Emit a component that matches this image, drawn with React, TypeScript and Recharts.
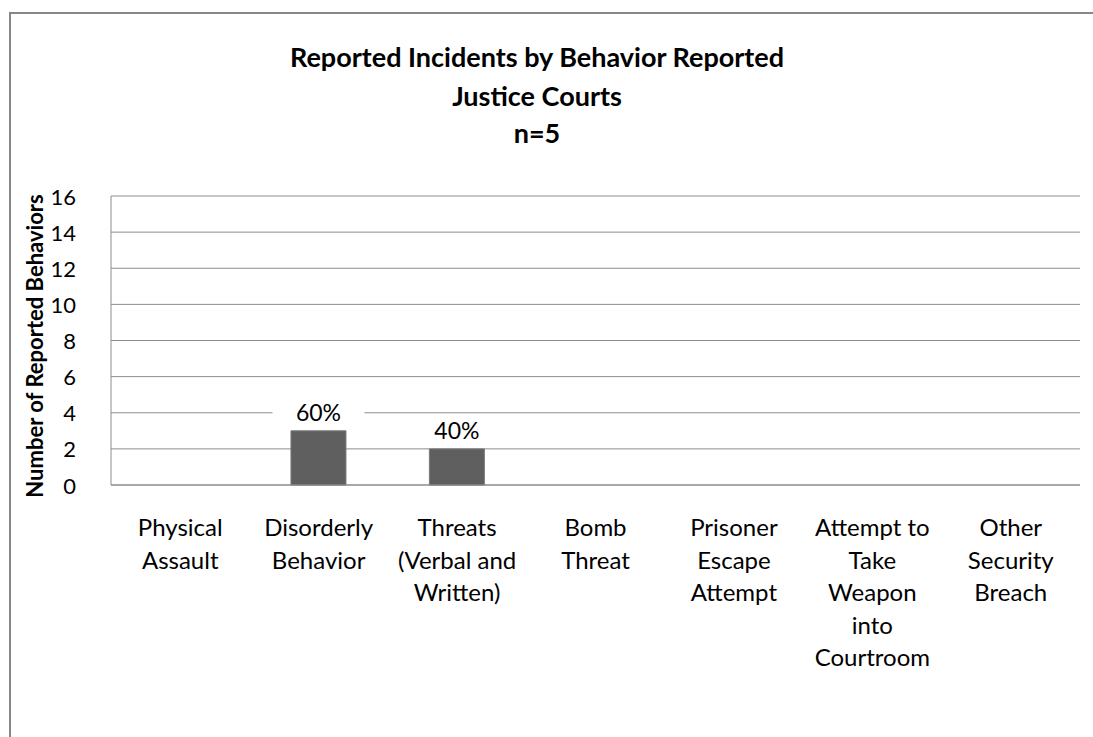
import React from 'react'
import { BarChart, Bar, XAxis, YAxis, CartesianGrid, LabelList } from 'recharts'

const FONT = 'Lato, Carlito, sans-serif'

const titleLines = ['Reported Incidents by Behavior Reported', 'Justice Courts', 'n=5']

const categories = [
  'Physical Assault',
  'Disorderly Behavior',
  'Threats (Verbal and Written)',
  'Bomb Threat',
  'Prisoner Escape Attempt',
  'Attempt to Take Weapon into Courtroom',
  'Other Security Breach',
]

// wrapped category labels, one entry per line
const tickLines = [
  ['Physical', 'Assault'],
  ['Disorderly', 'Behavior'],
  ['Threats', '(Verbal and', 'Written)'],
  ['Bomb', 'Threat'],
  ['Prisoner', 'Escape', 'Attempt'],
  ['Attempt to', 'Take', 'Weapon', 'into', 'Courtroom'],
  ['Other', 'Security', 'Breach'],
]

const counts = [0, 3, 2, 0, 0, 0, 0]

const yTicks = [0, 2, 4, 6, 8, 10, 12, 14, 16]

const total = counts.reduce((a, b) => a + b, 0)

const data = categories.map((name, i) => ({ name, count: counts[i] }))

const CategoryTick = (props: any) => {
  const { x, y, index } = props
  const lines = tickLines[index] || []
  return (
    <text x={x} y={y} textAnchor="middle" fontFamily={FONT} fontSize={24} fill="#000">
      {lines.map((line, i) => (
        <tspan key={i} x={x} dy={i === 0 ? 43 : 32.5}>
          {line}
        </tspan>
      ))}
    </text>
  )
}

const ValueTick = (props: any) => {
  const { y, payload } = props
  return (
    <text x={76} y={y} textAnchor="end" dominantBaseline="central" fontFamily={FONT} fontSize={22} fill="#000">
      {payload.value}
    </text>
  )
}

const PercentLabel = (props: any) => {
  const { x, y, width, value } = props
  if (!value) return null
  const cx = x + width / 2
  const cy = y - 19
  const pct = Math.round((value / total) * 100) + '%'
  return (
    <g>
      <rect x={cx - 46} y={cy - 13} width={92} height={26} fill="#fff" />
      <text x={cx} y={cy} textAnchor="middle" dominantBaseline="central" fontFamily={FONT} fontSize={23} fill="#000">
        {pct}
      </text>
    </g>
  )
}

const YTitle = () => (
  <text
    x={34}
    y={346}
    transform="rotate(-90, 34, 346)"
    textAnchor="middle"
    dominantBaseline="central"
    fontFamily={FONT}
    fontSize={22}
    fontWeight="bold"
    fill="#000"
  >
    Number of Reported Behaviors
  </text>
)

export default function App() {
  return (
    <div style={{ position: 'absolute', left: 0, top: 0, width: 1093, height: 737, background: '#fff', overflow: 'hidden' }}>
      <div
        style={{
          position: 'absolute',
          left: 9,
          top: 12,
          width: 1100,
          height: 740,
          borderTop: '2px solid #878787',
          borderLeft: '2px solid #878787',
          boxSizing: 'border-box',
        }}
      />
      {titleLines.map((line, i) => (
        <div
          key={i}
          style={{
            position: 'absolute',
            left: 237,
            width: 600,
            top: [57, 96, 133][i] - 18,
            height: 36,
            lineHeight: '36px',
            textAlign: 'center',
            fontFamily: FONT,
            fontWeight: 'bold',
            fontSize: 27,
            color: '#000',
          }}
        >
          {line}
        </div>
      ))}
      <div style={{ position: 'absolute', left: 0, top: 0 }}>
        <BarChart width={1093} height={737} data={data} margin={{ top: 196, right: 13, bottom: 0, left: 0 }} barCategoryGap="30%">
          <CartesianGrid vertical={false} stroke="#8c8c8c" />
          <XAxis
            dataKey="name"
            height={252}
            tickLine={false}
            axisLine={{ stroke: '#8c8c8c' }}
            tick={<CategoryTick />}
            interval={0}
          />
          <YAxis
            width={111}
            domain={[0, 16]}
            ticks={yTicks}
            tickLine={false}
            axisLine={{ stroke: '#8c8c8c' }}
            tick={<ValueTick />}
            label={<YTitle />}
          />
          <Bar dataKey="count" fill="#5f5f5f" stroke="#7a7a7a" strokeWidth={1} isAnimationActive={false}>
            <LabelList dataKey="count" content={<PercentLabel />} />
          </Bar>
        </BarChart>
      </div>
    </div>
  )
}
